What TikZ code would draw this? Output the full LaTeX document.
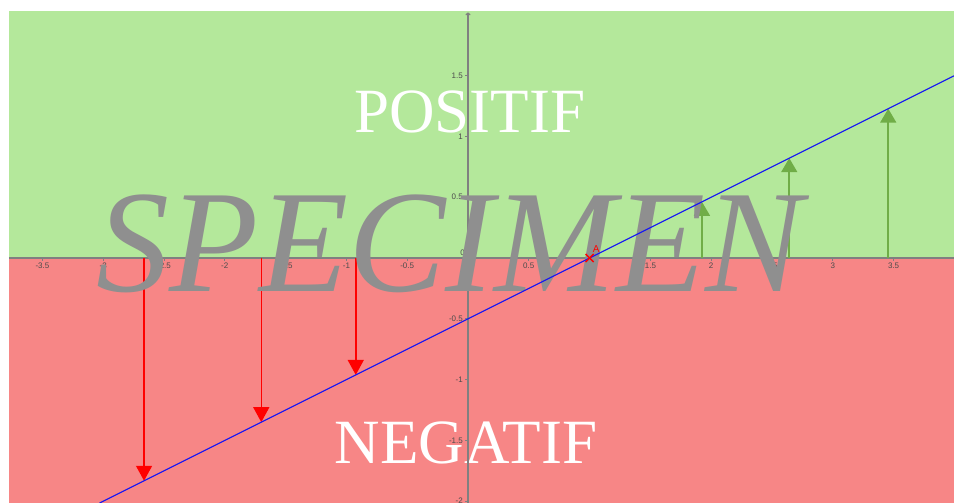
\documentclass[tikz,border=0pt]{standalone}
\usepackage{fontspec}
\setmainfont{Liberation Serif}
\newfontfamily\labelfont{Liberation Sans}
\usetikzlibrary{arrows.meta}
\definecolor{posfill}{RGB}{180,232,155}
\definecolor{negfill}{RGB}{247,134,134}
\definecolor{posarrow}{RGB}{112,173,71}
\definecolor{specgray}{RGB}{143,143,143}
\definecolor{axisgray}{RGB}{128,128,128}
\definecolor{linblue}{RGB}{20,20,245}
\tikzset{
  bigword/.style={text=white,font=\fontsize{63}{63}\selectfont,inner sep=0pt},
  ticklabel/.style={text=black!70,font=\labelfont\fontsize{8}{8}\selectfont,inner sep=0pt},
  axisline/.style={axisgray,line width=1.3pt},
  negarrow/.style={red,line width=1.5pt,-{Triangle[length=15pt,width=16pt]}},
  posarrowstyle/.style={posarrow,line width=1.6pt,-{Triangle[length=14pt,width=16pt]}},
  fnline/.style={linblue,line width=1.2pt},
}
\begin{document}
\begin{tikzpicture}[x=121.6pt,y=121.6pt]
\useasboundingbox (-3.8487,-2.0148) rectangle (3.9967,2.1217);
% regions
\fill[posfill] (-3.7747,0) rectangle (3.9967,2.0312);
\fill[negfill] (-3.7747,-2.0148) rectangle (3.9967,0);
% region words
\node[bigword,anchor=base] (pos) at (0.016,1.028) {POSITIF};
\node[bigword,anchor=base] (neg) at (-0.016,-1.694) {NEGATIF};
% axes
\coordinate (xl) at (-3.7747,0);
\coordinate (xr) at (3.9967,0);
\coordinate (yb) at (0,-2.0148);
\coordinate (yt) at (0,2.02);
\draw[axisline] (xl) -- (xr);
\draw[axisline,-{To[length=3pt,width=5pt]}] (yb) -- (yt);
\foreach \v/\t in {-3.5/-3.5,-3/-3,-2.5/-2.5,-2/-2,-1.5/-1.5,-1/-1,-0.5/-0.5,0.5/0.5,1/1,1.5/1.5,2/2,2.5/2.5,3/3,3.5/3.5}{
  \draw[axisgray,line width=0.8pt] (\v,0) -- ++(0,-3pt);
  \node[ticklabel,anchor=north] at ([yshift=-5pt]\v,0) {\t};
}
\foreach \v/\t in {1.5/1.5,1/1,0.5/0.5,-0.5/-0.5,-1/-1,-1.5/-1.5,-2/-2}{
  \draw[axisgray,line width=0.8pt] (0,\v) -- ++(-3pt,0);
  \node[ticklabel,anchor=east] at ([xshift=-5pt]0,\v) {\t};
}
\node[ticklabel,anchor=north west] (x0) at ([xshift=2pt,yshift=-5pt]0,0) {0};
\node[ticklabel,anchor=south east] (y0) at ([xshift=-3pt,yshift=2pt]0,0) {0};
% arrows from axis to line
\foreach \v [count=\i] in {-2.664,-1.700,-0.923}{
  \coordinate (na\i) at (\v,0);
  \coordinate (nb\i) at (\v,{0.5*\v-0.5});
  \draw[negarrow] (na\i) -- (nb\i);
}
\foreach \v [count=\i] in {1.924,2.642,3.456}{
  \coordinate (pa\i) at (\v,0);
  \coordinate (pb\i) at (\v,{0.5*\v-0.5});
  \draw[posarrowstyle] (pa\i) -- (pb\i);
}
% watermark
\node[text=specgray,anchor=base,inner sep=0pt,font=\itshape\fontsize{146}{146}\selectfont] (spec) at (-0.15,-0.275) {SPECIMEN};
% line
\coordinate (l1) at (-3.0296,-2.0148);
\coordinate (l2) at (3.9967,1.49835);
\draw[fnline] (l1) -- (l2);
% point A
\coordinate (A) at (1,0);
\draw[red,line width=1.5pt] ([shift={(-4pt,-4pt)}]A) -- ([shift={(4pt,4pt)}]A);
\draw[red,line width=1.5pt] ([shift={(-4pt,4pt)}]A) -- ([shift={(4pt,-4pt)}]A);
\node[text=red,font=\labelfont\fontsize{10}{10}\selectfont,anchor=south west,inner sep=0pt] (Alab) at ([shift={(3pt,5pt)}]A) {A};
\end{tikzpicture}
\end{document}
